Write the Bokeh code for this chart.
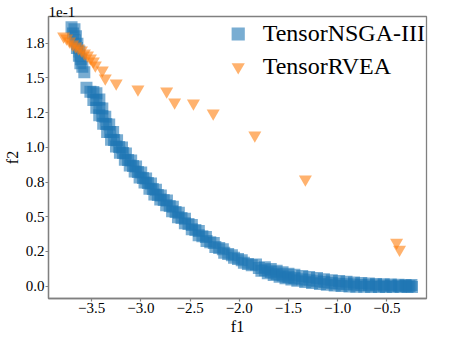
from bokeh.plotting import figure
from bokeh.models import Range1d, FixedTicker, Label, Legend, LegendItem
from bokeh.embed import file_html
from bokeh.resources import INLINE

# ---- data (f1 shown in units of 1e2, f2 in units of 1e-1) ----
nsga_f1 = [
    -3.705, -3.675, -3.690, -3.660, -3.670, -3.645, -3.650, -3.625, -3.630, -3.610,
    -3.615, -3.595, -3.575, -3.553,
    -3.513, -3.452, -3.483, -3.422, -3.453, -3.392, -3.423, -3.362, -3.383, -3.322,
    -3.343, -3.282, -3.303, -3.242, -3.253, -3.192, -3.213, -3.152, -3.163, -3.099,
    -3.113, -3.049, -3.063, -2.997, -3.013, -2.947, -2.963, -2.897, -2.913, -2.847,
    -2.863, -2.797, -2.803, -2.735, -2.743, -2.675, -2.683, -2.614, -2.623, -2.552,
    -2.553, -2.482, -2.483, -2.411, -2.413, -2.339, -2.333, -2.259, -2.243, -2.167,
    -2.153, -2.075, -2.053, -1.975, -1.953, -1.873,
    -1.830, -1.775, -1.740, -1.710, -1.680, -1.650, -1.620, -1.590, -1.560, -1.530,
    -1.500, -1.470, -1.440, -1.410, -1.360, -1.330, -1.290, -1.260, -1.210, -1.180,
    -1.140, -1.110, -1.060, -1.030, -0.985, -0.960, -0.910, -0.880, -0.834, -0.810,
    -0.760, -0.730, -0.683, -0.660, -0.610, -0.580, -0.532, -0.510, -0.460, -0.440,
    -0.381, -0.360, -0.310, -0.290, -0.250, -0.245,
    # band middle
    -3.483, -3.453, -3.422, -3.392, -3.352, -3.312, -3.272, -3.221, -3.181, -3.130,
    -3.080, -3.030, -2.979, -2.929, -2.879, -2.828, -2.768, -2.707, -2.647, -2.587,
    -2.516, -2.446, -2.375, -2.295, -2.204, -2.113, -2.013, -1.912,
    -1.801, -1.740, -1.680, -1.620, -1.559, -1.500, -1.439, -1.360, -1.287, -1.210,
    -1.136, -1.060, -0.985, -0.910, -0.834, -0.760, -0.683, -0.610, -0.532, -0.460,
    -0.381, -0.310, -0.270,
]
nsga_f2 = [
    1.865, 1.850, 1.820, 1.800, 1.770, 1.745, 1.715, 1.690, 1.660, 1.635,
    1.605, 1.580, 1.540, 1.428,
    1.400, 1.390, 1.340, 1.345, 1.285, 1.280, 1.230, 1.220, 1.170, 1.165,
    1.110, 1.110, 1.055, 1.050, 1.005, 0.998, 0.960, 0.955, 0.910, 0.905,
    0.868, 0.862, 0.825, 0.818, 0.782, 0.775, 0.746, 0.740, 0.702, 0.695,
    0.660, 0.652, 0.624, 0.616, 0.582, 0.572, 0.540, 0.528, 0.496, 0.485,
    0.453, 0.441, 0.410, 0.398, 0.367, 0.354, 0.325, 0.310, 0.282, 0.266,
    0.240, 0.222, 0.204, 0.186, 0.168, 0.150,
    0.156, 0.110, 0.136, 0.092, 0.124, 0.080, 0.110, 0.067, 0.100, 0.056,
    0.090, 0.047, 0.082, 0.038, 0.073, 0.030, 0.065, 0.023, 0.058, 0.016,
    0.050, 0.010, 0.042, 0.005, 0.037, 0.001, 0.031, -0.002, 0.027, -0.004,
    0.022, -0.005, 0.019, -0.006, 0.016, -0.006, 0.013, -0.006, 0.012, -0.006,
    0.010, -0.006, 0.009, -0.006, 0.008, -0.006,
    # band middle
    1.399, 1.341, 1.283, 1.226, 1.168, 1.110, 1.053, 1.002, 0.959, 0.908,
    0.865, 0.822, 0.779, 0.743, 0.699, 0.656, 0.620, 0.577, 0.534, 0.490,
    0.447, 0.404, 0.360, 0.317, 0.274, 0.231, 0.195, 0.159,
    0.130, 0.115, 0.101, 0.088, 0.076, 0.066, 0.058, 0.050, 0.043, 0.036,
    0.029, 0.023, 0.018, 0.014, 0.011, 0.008, 0.006, 0.004, 0.003, 0.002,
    0.001, 0.001, 0.001,
]

rvea_f1 = [
    -3.785, -3.755, -3.725, -3.694, -3.664, -3.634, -3.604, -3.574, -3.543, -3.513,
    -3.483, -3.463, -3.392, -3.362, -3.251, -3.030, -2.738, -2.657, -2.466, -2.265,
    -1.842, -1.328, -0.401, -0.371,
]
rvea_f2 = [
    1.800, 1.786, 1.764, 1.742, 1.728, 1.713, 1.699, 1.677, 1.663, 1.642,
    1.620, 1.591, 1.555, 1.497, 1.461, 1.418, 1.404, 1.324, 1.317, 1.245,
    1.086, 0.769, 0.315, 0.264,
]

series_names = ["TensorNSGA-III", "TensorRVEA"]

x_ticks = [-3.5, -3.0, -2.5, -2.0, -1.5, -1.0, -0.5]
x_tick_labels = ["\u22123.5", "\u22123.0", "\u22122.5", "\u22122.0", "\u22121.5", "\u22121.0", "\u22120.5"]
y_ticks = [0.0, 0.25, 0.5, 0.75, 1.0, 1.25, 1.5, 1.75]
y_tick_labels = ["0.0", "0.2", "0.5", "0.8", "1.0", "1.2", "1.5", "1.8"]

x_scale_text = "1e2"
y_scale_text = "1e-1"

FONT = "Liberation Serif"
BLUE = "#1f77b4"
ORANGE = "#ff7f0e"
SPINE = "#808080"

x0, x1 = -3.939, -0.097
y0, y1 = -0.089, 1.942

p = figure(width=449, height=342, output_backend="svg", toolbar_location=None,
           x_range=Range1d(x0, x1), y_range=Range1d(y0, y1),
           min_border_left=44, min_border_right=23, min_border_top=16, min_border_bottom=44)

# y-axis scale factor shown above the top-left corner of the axes
p.title.text = y_scale_text
p.title.align = "left"
p.title.text_font = FONT
p.title.text_font_size = "15px"
p.title.text_font_style = "normal"
p.title.text_color = "black"
p.title.standoff = 0
p.title.offset = 0

p.grid.visible = False
p.background_fill_color = "white"
p.border_fill_color = "white"
p.outline_line_color = SPINE
p.outline_line_width = 1.3

r1 = p.scatter(nsga_f1, nsga_f2, marker="square", size=12, fill_color=BLUE,
               fill_alpha=0.6, line_color=None)
r2 = p.scatter(rvea_f1, rvea_f2, marker="inverted_triangle", size=13, fill_color=ORANGE,
               fill_alpha=0.6, line_color=None)

for ax, ticks, labels in ((p.xaxis[0], x_ticks, x_tick_labels), (p.yaxis[0], y_ticks, y_tick_labels)):
    ax.ticker = FixedTicker(ticks=ticks)
    ax.major_label_overrides = {t: l for t, l in zip(ticks, labels)}
    ax.minor_tick_line_color = None
    ax.major_tick_in = 0
    ax.major_tick_out = 3
    ax.major_tick_line_color = SPINE
    ax.major_tick_line_width = 1.2
    ax.axis_line_color = SPINE
    ax.axis_line_width = 1.3
    ax.major_label_text_font = FONT
    ax.major_label_text_font_size = "15px"
    ax.major_label_text_color = "black"
    ax.axis_label_text_font = FONT
    ax.axis_label_text_font_size = "16px"
    ax.axis_label_text_font_style = "normal"
    ax.axis_label_text_color = "black"

p.xaxis.axis_label = "f1"
p.yaxis.axis_label = "f2"
p.xaxis.major_label_standoff = 1
p.yaxis.major_label_standoff = 1
p.xaxis.axis_label_standoff = 2
p.yaxis.axis_label_standoff = 2

p.add_layout(Label(x=x1, y=y0, text=x_scale_text, text_font=FONT, text_font_size="15px",
                   text_baseline="alphabetic", x_offset=2, y_offset=0, text_color="black"))

legend = Legend(items=[LegendItem(label=series_names[0], renderers=[r1]),
                       LegendItem(label=series_names[1], renderers=[r2])],
                location="top_right", orientation="vertical",
                border_line_color=None, background_fill_alpha=0,
                label_text_font=FONT, label_text_font_size="24px", label_text_color="black",
                glyph_width=38, glyph_height=33, spacing=0, padding=0, margin=1,
                label_standoff=6)
p.add_layout(legend)

open("out.html", "w").write(file_html(p, INLINE))
